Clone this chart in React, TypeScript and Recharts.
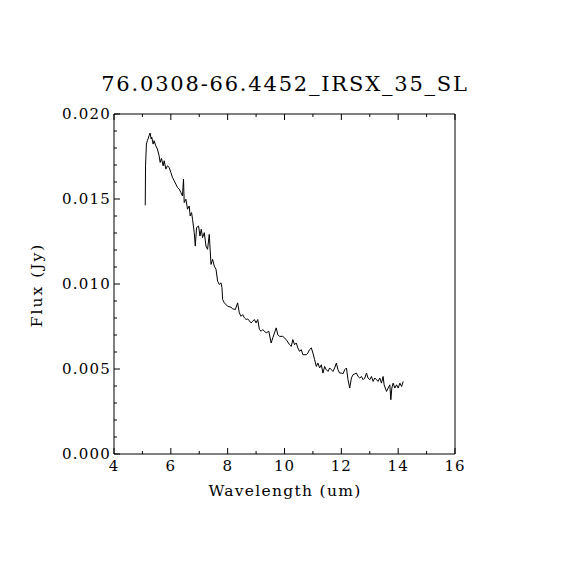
import React from "react";
import { LineChart, Line, XAxis, YAxis } from "recharts";

// 76.0308-66.4452 IRS SL 光譜（讀圖估值）
const TITLE = "76.0308-66.4452_IRSX_35_SL";
const X_LABEL = "Wavelength (um)";
const Y_LABEL = "Flux (Jy)";

const wavelength = [
  5.10, 5.11, 5.14, 5.175, 5.235, 5.27, 5.306, 5.33, 5.377, 5.41, 5.47, 5.528, 5.588, 5.624, 5.67,
  5.73, 5.765, 5.825, 5.88, 5.94, 6.0, 6.058, 6.118, 6.178, 6.234, 6.294, 6.354, 6.41, 6.446, 6.47,
  6.53, 6.587, 6.647, 6.68, 6.73, 6.764, 6.824, 6.86, 6.905, 6.976, 7.025, 7.07, 7.117, 7.177, 7.237,
  7.293, 7.353, 7.413, 7.47, 7.53, 7.59, 7.646, 7.706, 7.766, 7.8, 7.823, 7.883, 8.0, 8.12, 8.176,
  8.27, 8.35, 8.41, 8.47, 8.53, 8.59, 8.65, 8.705, 8.825, 8.88, 8.94, 9.0, 9.058, 9.118, 9.178,
  9.235, 9.355, 9.447, 9.53, 9.588, 9.648, 9.708, 9.764, 9.824, 9.94, 10.06, 10.177, 10.237, 10.294,
  10.354, 10.414, 10.47, 10.53, 10.59, 10.647, 10.767, 10.823, 10.883, 10.943, 11.0, 11.06, 11.12,
  11.176, 11.236, 11.296, 11.353, 11.413, 11.47, 11.53, 11.59, 11.65, 11.705, 11.765, 11.825, 11.88,
  11.94, 12.0, 12.06, 12.12, 12.18, 12.235, 12.295, 12.355, 12.41, 12.53, 12.59, 12.648, 12.71,
  12.765, 12.825, 12.885, 12.94, 13.0, 13.06, 13.118, 13.178, 13.238, 13.294, 13.354, 13.414, 13.47,
  13.506, 13.59, 13.647, 13.707, 13.742, 13.777, 13.823, 13.883, 13.943, 14.0, 14.06, 14.12, 14.177,
];

const flux = [
  0.01463, 0.01695, 0.01823, 0.01843, 0.01872, 0.01888, 0.01853, 0.01863, 0.01823, 0.01843, 0.01813,
  0.01794, 0.01754, 0.01715, 0.01739, 0.01695, 0.01725, 0.01676, 0.01695, 0.01686, 0.01656, 0.01627,
  0.01607, 0.01587, 0.01568, 0.01558, 0.01538, 0.01518, 0.01617, 0.01479, 0.01499, 0.0144, 0.01459,
  0.014, 0.0142, 0.01381, 0.01302, 0.01223, 0.01332, 0.01341, 0.01282, 0.01322, 0.01273, 0.01302,
  0.01223, 0.01204, 0.01292, 0.01115, 0.01145, 0.01105, 0.01086, 0.01017, 0.00997, 0.01007, 0.00978,
  0.00909, 0.00889, 0.00869, 0.00863, 0.00854, 0.0085, 0.00889, 0.0083, 0.0081, 0.0082, 0.00801,
  0.00791, 0.00795, 0.00771, 0.00781, 0.00791, 0.00771, 0.00791, 0.00732, 0.00722, 0.00732, 0.00712,
  0.00722, 0.00653, 0.00683, 0.00712, 0.00742, 0.00702, 0.00692, 0.00692, 0.00673, 0.00643, 0.00633,
  0.00673, 0.00643, 0.00653, 0.00624, 0.00604, 0.00614, 0.00584, 0.00584, 0.00594, 0.00614, 0.00624,
  0.00594, 0.00555, 0.00515, 0.00535, 0.00506, 0.00525, 0.00476, 0.00515, 0.00496, 0.00486, 0.00506,
  0.00496, 0.00486, 0.00506, 0.00535, 0.00496, 0.00476, 0.00476, 0.00472, 0.00496, 0.00506, 0.00437,
  0.00388, 0.00447, 0.00466, 0.00476, 0.00456, 0.00447, 0.00456, 0.00437, 0.00447, 0.00476, 0.00447,
  0.00437, 0.00456, 0.00427, 0.00447, 0.00437, 0.00427, 0.00447, 0.00417, 0.00456, 0.00407, 0.00368,
  0.00388, 0.00407, 0.00319, 0.00388, 0.00417, 0.00388, 0.00407, 0.00388, 0.00417, 0.00397, 0.00427,
];

// 刻度：主刻度有標籤，次刻度只畫短線
const xTicks = [4, 5, 6, 7, 8, 9, 10, 11, 12, 13, 14, 15, 16];
const yTicks = [
  0, 0.001, 0.002, 0.003, 0.004, 0.005, 0.006, 0.007, 0.008, 0.009, 0.01,
  0.011, 0.012, 0.013, 0.014, 0.015, 0.016, 0.017, 0.018, 0.019, 0.02,
];
const X_STEP = 2;
const Y_STEP = 0.005;

const data = wavelength.map((w, i) => ({ w, f: flux[i] }));

const FONT = "'DejaVu Serif', serif";
const XD: [number, number] = [4, 16];
const YD: [number, number] = [0, 0.02];

const isMajor = (v: number, step: number) => Math.abs(v / step - Math.round(v / step)) < 1e-6;

// 朝內的刻度線 + 主刻度標籤
function makeTick(side: "bottom" | "top" | "left" | "right") {
  return (props: any) => {
    const { x, y, payload } = props;
    const v = payload.value as number;
    const major = side === "bottom" || side === "top" ? isMajor(v, X_STEP) : isMajor(v, Y_STEP);
    const len = major ? 6 : 3;
    let x2 = x, y2 = y;
    if (side === "bottom") y2 = y - len;
    if (side === "top") y2 = y + len;
    if (side === "left") x2 = x + len;
    if (side === "right") x2 = x - len;
    return (
      <g>
        <line x1={x} y1={y} x2={x2} y2={y2} stroke="#000" strokeWidth={1} />
        {major && side === "bottom" && (
          <text x={x} y={y + 17} textAnchor="middle" fontFamily={FONT} fontSize={15} letterSpacing={1}>
            {String(v)}
          </text>
        )}
        {major && side === "left" && (
          <text x={x - 3} y={y + 5} textAnchor="end" fontFamily={FONT} fontSize={15} letterSpacing={1.2}>
            {v.toFixed(3)}
          </text>
        )}
      </g>
    );
  };
}

export default function App() {
  return (
    <div style={{ position: "absolute", left: 0, top: 0, width: 570, height: 570, background: "#fff" }}>
      <LineChart
        width={570}
        height={570}
        data={data}
        margin={{ top: 113, right: 114, bottom: 86, left: 54 }}
      >
        <XAxis xAxisId="x" type="number" dataKey="w" domain={XD} ticks={xTicks} height={30}
          interval={0} tickSize={0} tickMargin={0} tickLine={false}
          tick={makeTick("bottom")} axisLine={{ stroke: "#000" }} />
        <XAxis xAxisId="t" orientation="top" type="number" dataKey="w" domain={XD} ticks={xTicks} height={1}
          interval={0} tickSize={0} tickMargin={0} tickLine={false}
          tick={makeTick("top")} axisLine={{ stroke: "#000" }} />
        <YAxis yAxisId="y" type="number" domain={YD} ticks={yTicks} width={60}
          interval={0} tickSize={0} tickMargin={0} tickLine={false}
          tick={makeTick("left")} axisLine={{ stroke: "#000" }} />
        <YAxis yAxisId="r" orientation="right" type="number" domain={YD} ticks={yTicks} width={1}
          interval={0} tickSize={0} tickMargin={0} tickLine={false}
          tick={makeTick("right")} axisLine={{ stroke: "#000" }} />

        <Line xAxisId="x" yAxisId="y" type="linear" dataKey="f" stroke="#000" strokeWidth={1}
          dot={false} isAnimationActive={false} />
      </LineChart>

      {/* 標題與軸名 */}
      <svg width={570} height={570} style={{ position: "absolute", left: 0, top: 0, pointerEvents: "none" }}>
        <text x={285} y={91} textAnchor="middle" fontFamily={FONT} fontSize={21} letterSpacing={1.8}>
          {TITLE}
        </text>
        <text x={285} y={496} textAnchor="middle" fontFamily={FONT} fontSize={15.5} letterSpacing={1.3}>
          {X_LABEL}
        </text>
        <text transform="translate(42,285) rotate(-90)" textAnchor="middle" fontFamily={FONT} fontSize={15.5}
          letterSpacing={2}>
          {Y_LABEL}
        </text>
      </svg>
    </div>
  );
}
